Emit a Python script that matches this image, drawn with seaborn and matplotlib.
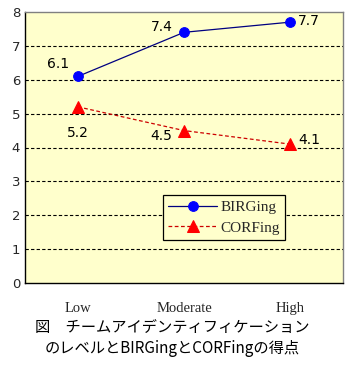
import matplotlib
matplotlib.use("Agg")
import matplotlib.pyplot as plt
import seaborn as sns
import pandas as pd

levels = ["Low", "Moderate", "High"]
birging = [6.1, 7.4, 7.7]
corfing = [5.2, 4.5, 4.1]
yticks = [0, 1, 2, 3, 4, 5, 6, 7, 8]
caption = "図　チームアイデンティフィケーション\nのレベルとBIRGingとCORFingの得点"

sns.set_theme(style="white")
plt.rcParams["font.family"] = ["Noto Sans CJK JP", "DejaVu Sans"]

df = pd.DataFrame({
    "level": levels * 2,
    "score": birging + corfing,
    "series": ["BIRGing"] * 3 + ["CORFing"] * 3,
})

fig = plt.figure(figsize=(3.45, 3.66), dpi=100)
ax = fig.add_axes([25 / 345, 1 - 283 / 366, 318 / 345, 271 / 366])
ax.set_facecolor("#FFFFCC")

sns.lineplot(data=df[df.series == "BIRGing"], x="level", y="score", ax=ax,
             color="#0000FF", marker="o", markersize=7, linewidth=0.9,
             markeredgecolor="#0000FF", label="BIRGing")
sns.lineplot(data=df[df.series == "CORFing"], x="level", y="score", ax=ax,
             color="#FF0000", marker="^", markersize=8, linewidth=0.9,
             linestyle=(0, (3, 2)), markeredgecolor="#FF0000", label="CORFing")
# the BIRGing line itself is drawn in navy, markers in blue
ax.lines[0].set_color("#000080")
ax.lines[0].set_markerfacecolor("#0000FF")
ax.lines[0].set_markeredgecolor("#0000FF")
ax.lines[1].set_color("#CC0000")
ax.lines[1].set_markerfacecolor("#FF0000")
ax.lines[1].set_markeredgecolor("#FF0000")

ax.set_xlim(-0.5, 2.5)
ax.set_ylim(0, 8)
ax.set_yticks(yticks)
for y in yticks[1:-1]:
    ax.axhline(y, color="black", linestyle=(0, (3, 2)), linewidth=0.8, zorder=0.5)

ax.set_xlabel("")
ax.set_ylabel("")
ax.tick_params(axis="both", length=0, labelsize=9.5)
ax.tick_params(axis="x", pad=14)
for lab in ax.get_xticklabels():
    lab.set_fontfamily("Liberation Serif")
    lab.set_fontsize(10.5)
for lab in ax.get_yticklabels():
    lab.set_fontfamily("DejaVu Sans")

for side in ["left", "bottom"]:
    ax.spines[side].set_color("black")
    ax.spines[side].set_linewidth(1.0)
for side in ["top", "right"]:
    ax.spines[side].set_color("#808080")
    ax.spines[side].set_linewidth(1.0)

# value labels
offsets_b = [(-22, 9, "left"), (-24, 4, "left"), (6, 1, "left")]
for i, (v, (dx, dy, ha)) in enumerate(zip(birging, offsets_b)):
    ax.annotate(f"{v}", (i, v), xytext=(dx, dy), textcoords="offset points",
                fontsize=10, family="DejaVu Sans", va="center", ha=ha,
                color="black")
offsets_c = [(-8, -19, "left"), (-24, -4, "left"), (6, 3, "left")]
for i, (v, (dx, dy, ha)) in enumerate(zip(corfing, offsets_c)):
    ax.annotate(f"{v}", (i, v), xytext=(dx, dy), textcoords="offset points",
                fontsize=10, family="DejaVu Sans", va="center", ha=ha,
                color="black")

leg = ax.legend(loc="upper left", bbox_to_anchor=(138 / 318, (283 - 195) / 271),
                borderaxespad=0,
                frameon=True, fancybox=False, edgecolor="black",
                framealpha=1, facecolor="#FFFFCC", borderpad=0.35,
                handlelength=3.2, handletextpad=0.2, labelspacing=0.45,
                prop={"family": "Liberation Serif", "size": 11})
leg.get_frame().set_linewidth(0.9)

fig.text(172 / 345, 1 - 338 / 366, caption, ha="center", va="center",
         fontsize=11, linespacing=1.25, color="black")

fig.savefig("out.png", dpi=100)
